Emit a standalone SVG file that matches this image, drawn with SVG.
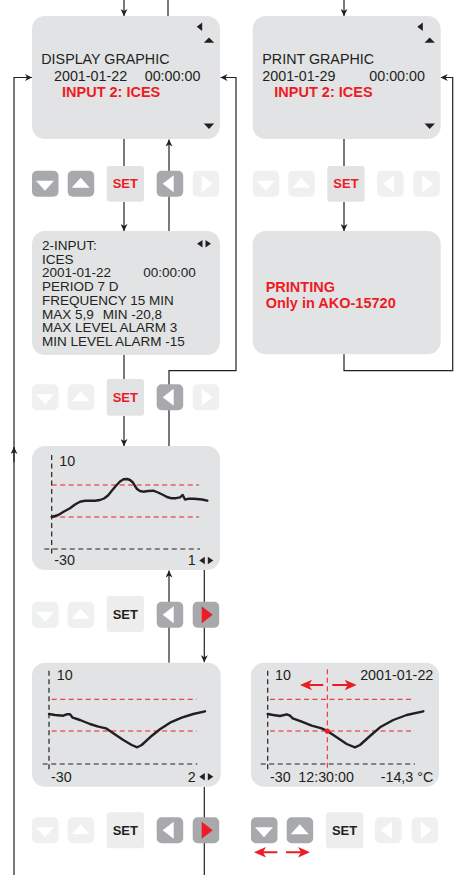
<svg xmlns="http://www.w3.org/2000/svg" xmlns:xlink="http://www.w3.org/1999/xlink" width="461" height="875" viewBox="0 0 461 875">
<defs>
<style>
.box{fill:#e2e3e4}
.t{font-family:"Liberation Sans",Arial,Helvetica,sans-serif;font-size:14.3px;fill:#231f20}
.s{font-size:13.5px}
.r{fill:#ed1c24;font-weight:bold;font-size:14.5px}
.ln{stroke:#231f20;stroke-width:1.2;fill:none}
.ax{stroke:#231f20;stroke-width:1.2;stroke-dasharray:5 3.5;fill:none}
.rd{stroke:#ed1c24;stroke-width:1;stroke-dasharray:5 3.5;fill:none}
.cv{stroke:#231f20;stroke-width:2.4;fill:none;stroke-linejoin:round;stroke-linecap:round}
.bd{fill:#a7a9ac}
.bl{fill:#eff0f0}
.bs{fill:#e2e3e4}
.bs2{fill:#ededee}
.w{fill:#ffffff}
.k{fill:#231f20}
.red{fill:#ed1c24}
.set{font-family:"Liberation Sans",Arial,Helvetica,sans-serif;font-size:13px;font-weight:bold;text-anchor:middle}
</style>
<marker id="ah" viewBox="0 0 10 10" refX="10" refY="5" markerWidth="7" markerHeight="7" markerUnits="userSpaceOnUse" orient="auto">
<path d="M0,0 L10,5 L0,10 L3,5 z" fill="#231f20"/>
</marker>
<g id="tD"><polygon points="4,10 22,10 13,20"/></g>
<g id="tU"><polygon points="4,17 22,17 13,7"/></g>
<g id="tL"><polygon points="17,4.5 6,13 17,21.5"/></g>
<g id="tR"><polygon points="9,4.5 20,13 9,21.5"/></g>
<g id="lr"><polygon points="5.5,0 0,3.7 5.5,7.4"/><polygon points="8.5,0 14,3.7 8.5,7.4"/></g>
</defs>

<!-- connectors -->
<g id="connectors">
<path class="ln" d="M124,0 V16" marker-end="url(#ah)"/>
<path class="ln" d="M168,16 V0"/>
<path class="ln" d="M344,0 V16" marker-end="url(#ah)"/>
<path class="ln" d="M124,139 V166"/>
<path class="ln" d="M124,202 V231" marker-end="url(#ah)"/>
<path class="ln" d="M169,231 V139.5" marker-end="url(#ah)"/>
<path class="ln" d="M344,139 V166"/>
<path class="ln" d="M344,202 V231" marker-end="url(#ah)"/>
<path class="ln" d="M14,875 V77.5 H32" marker-end="url(#ah)"/>
<path class="ln" d="M14,462 V447" marker-end="url(#ah)"/>
<path class="ln" d="M169,446 V370.7 H236 V77.5 H220.5" marker-end="url(#ah)"/>
<path class="ln" d="M344,354 V370.7 H452.7 V77.5 H440.7" marker-end="url(#ah)"/>
<path class="ln" d="M124,355 V379"/>
<path class="ln" d="M124,416 V446" marker-end="url(#ah)"/>
<path class="ln" d="M169,662.7 V570.5" marker-end="url(#ah)"/>
<path class="ln" d="M204.3,570 V662.2" marker-end="url(#ah)"/>
<path class="ln" d="M204.3,787 V875"/>
</g>

<!-- top left: display graphic -->
<g id="display-graphic">
<rect class="box" x="32" y="16" width="188" height="123" rx="13"/>
<polygon class="k" points="196.7,26.7 202.2,22.5 202.2,30.9"/>
<polygon class="k" points="203.8,42.8 214.2,42.8 209,37.5"/>
<polygon class="k" points="203.8,123.6 214.2,123.6 209,128.9"/>
<text class="t" x="41.3" y="64.3">DISPLAY GRAPHIC</text>
<text class="t" x="54" y="81">2001-01-22</text>
<text class="t" x="144.7" y="81">00:00:00</text>
<text class="t r" x="62" y="96.7">INPUT 2: ICES</text>
</g>

<!-- top right: print graphic -->
<g id="print-graphic">
<rect class="box" x="252.7" y="16" width="188" height="123" rx="13"/>
<polygon class="k" points="417.3,26.7 422.8,22.5 422.8,30.9"/>
<polygon class="k" points="424.5,42.8 434.9,42.8 429.7,37.5"/>
<polygon class="k" points="424.5,123.6 434.9,123.6 429.7,128.9"/>
<text class="t" x="262.3" y="64.3">PRINT GRAPHIC</text>
<text class="t" x="262.3" y="81">2001-01-29</text>
<text class="t" x="369.3" y="81">00:00:00</text>
<text class="t r" x="274.3" y="96.7">INPUT 2: ICES</text>
</g>

<!-- buttons row 1 -->
<g id="buttons-1-left">
<rect class="bd" x="32" y="170.7" width="26.5" height="26" rx="5"/><use href="#tD" x="32" y="170.7" class="w"/>
<rect class="bd" x="67.7" y="170.7" width="26.5" height="26" rx="5"/><use href="#tU" x="67.7" y="170.7" class="w"/>
<rect class="bs" x="106.7" y="166" width="37.3" height="35.7" rx="3"/><text class="set red" x="125.3" y="188.3">SET</text>
<rect class="bd" x="156.7" y="170.7" width="26.5" height="26" rx="5"/><use href="#tL" x="156.7" y="170.7" class="w"/>
<rect class="bl" x="192.7" y="170.7" width="26.5" height="26" rx="5"/><use href="#tR" x="192.7" y="170.7" class="w"/>
</g>
<g id="buttons-1-right">
<rect class="bl" x="252.7" y="170.7" width="26.5" height="26" rx="5"/><use href="#tD" x="252.7" y="170.7" class="w"/>
<rect class="bl" x="288.3" y="170.7" width="26.5" height="26" rx="5"/><use href="#tU" x="288.3" y="170.7" class="w"/>
<rect class="bs" x="327.3" y="166" width="37.3" height="35.7" rx="3"/><text class="set red" x="346" y="188.3">SET</text>
<rect class="bl" x="377" y="170.7" width="26.5" height="26" rx="5"/><use href="#tL" x="377" y="170.7" class="w"/>
<rect class="bl" x="413.3" y="170.7" width="26.5" height="26" rx="5"/><use href="#tR" x="413.3" y="170.7" class="w"/>
</g>

<!-- info box -->
<g id="input-info">
<rect class="box" x="32" y="231" width="188" height="124" rx="13"/>
<use href="#lr" x="197" y="240" class="k"/>
<text class="t s" x="42" y="250">2-INPUT:</text>
<text class="t s" x="42" y="263.7">ICES</text>
<text class="t s" x="42" y="277.4">2001-01-22</text>
<text class="t s" x="143.3" y="277.4">00:00:00</text>
<text class="t s" x="42" y="291.1">PERIOD 7 D</text>
<text class="t s" x="42" y="304.8">FREQUENCY 15 MIN</text>
<text class="t s" x="42" y="318.5">MAX 5,9</text>
<text class="t s" x="102.7" y="318.5">MIN -20,8</text>
<text class="t s" x="42" y="332.2">MAX LEVEL ALARM 3</text>
<text class="t s" x="42" y="345.9">MIN LEVEL ALARM -15</text>
</g>

<!-- printing box -->
<g id="printing">
<rect class="box" x="252.7" y="231" width="188" height="123.3" rx="13"/>
<text class="t r" x="265.7" y="291.7">PRINTING</text>
<text class="t r" x="265.7" y="307.7">Only in AKO-15720</text>
</g>

<!-- buttons row 2 -->
<g id="buttons-2">
<rect class="bl" x="32" y="384.3" width="26.5" height="26" rx="5"/><use href="#tD" x="32" y="384.3" class="w"/>
<rect class="bl" x="67.7" y="384.3" width="26.5" height="26" rx="5"/><use href="#tU" x="67.7" y="384.3" class="w"/>
<rect class="bs" x="106.7" y="379" width="37.3" height="36.7" rx="3"/><text class="set red" x="125.3" y="402">SET</text>
<rect class="bd" x="156.7" y="384.3" width="26.5" height="26" rx="5"/><use href="#tL" x="156.7" y="384.3" class="w"/>
<rect class="bl" x="192.7" y="384.3" width="26.5" height="26" rx="5"/><use href="#tR" x="192.7" y="384.3" class="w"/>
</g>

<!-- graph 1 -->
<g id="graph-1">
<rect class="box" x="32" y="446" width="188" height="124" rx="13"/>
<line class="rd" x1="51.7" y1="485" x2="199" y2="485"/>
<line class="rd" x1="51.7" y1="517" x2="199" y2="517"/>
<line class="ax" x1="51.7" y1="455" x2="51.7" y2="557"/>
<line class="ax" x1="44.3" y1="549" x2="200" y2="549"/>
<polyline class="cv" points="51.7,517 58.3,515 64,511.5 70,508.3 75,504.5 80,501.7 85,500.8 90,500.7 95,500.8 100,500 104,498.5 108,495.5 112,490.5 116,485.8 120,481.5 123.5,479.3 127,479 130,480 133,482.5 135,486 137,489 140,491 143.3,491.7 148,491 153.3,490.7 158,492.5 163.3,495 167,497 171.7,498.3 176,498.2 180,497.3 182.7,495 185,499.5 188,498.8 190,498.7 194,498.8 196.7,499 202,499.5 207.3,500.7"/>
<text class="t" x="59.3" y="465.7">10</text>
<text class="t" x="54.3" y="565">-30</text>
<text class="t" x="187.7" y="565">1</text>
<use href="#lr" x="199.3" y="556.8" class="k"/>
</g>

<!-- buttons row 3 -->
<g id="buttons-3">
<rect class="bl" x="32" y="601.7" width="26.5" height="26" rx="5"/><use href="#tD" x="32" y="601.7" class="w"/>
<rect class="bl" x="67.7" y="601.7" width="26.5" height="26" rx="5"/><use href="#tU" x="67.7" y="601.7" class="w"/>
<rect class="bs2" x="106.7" y="596" width="37.3" height="36" rx="3"/><text class="set k" x="125.3" y="619">SET</text>
<rect class="bd" x="156.7" y="601.7" width="26.5" height="26" rx="5"/><use href="#tL" x="156.7" y="601.7" class="w"/>
<rect class="bd" x="192.7" y="601.7" width="26.5" height="26" rx="5"/><use href="#tR" x="192.7" y="601.7" class="red"/>
</g>

<!-- graph 2 -->
<g id="graph-2">
<rect class="box" x="32" y="662.7" width="188.7" height="124" rx="13"/>
<line class="rd" x1="51.7" y1="699.3" x2="196.7" y2="699.3"/>
<line class="rd" x1="51.7" y1="731" x2="196.7" y2="731"/>
<line class="ax" x1="49" y1="670.7" x2="49" y2="771.7"/>
<line class="ax" x1="42.7" y1="764" x2="197.3" y2="764"/>
<polyline class="cv" points="49,714 55,715 63.3,715.7 66.7,714.3 70,714.3 72.7,717.7 80,720 90,724 98.3,726.7 106,728.3 113.3,733.3 123.3,740 131.7,745 137.3,747.3 141.7,745 150,737.3 160,729.3 170,722.7 181.7,717.7 193.3,714 205,711.3"/>
<text class="t" x="56.7" y="680">10</text>
<text class="t" x="51" y="781.7">-30</text>
<text class="t" x="187.7" y="781.7">2</text>
<use href="#lr" x="199.3" y="773" class="k"/>
</g>

<!-- graph 3 (cursor) -->
<g id="graph-3">
<rect class="box" x="251" y="662.7" width="188" height="124" rx="13"/>
<line class="rd" x1="270" y1="699.3" x2="414.3" y2="699.3"/>
<line class="rd" x1="270" y1="731" x2="414.3" y2="731"/>
<line class="rd" x1="327.3" y1="669.3" x2="327.3" y2="771.7"/>
<line class="ax" x1="267.7" y1="670.7" x2="267.7" y2="771.7"/>
<line class="ax" x1="260.7" y1="764" x2="415" y2="764"/>
<polyline class="cv" points="267.7,714 273.3,715 280,716 286.7,714.3 290,715.7 292.7,718.3 301.7,721.7 311.7,725.7 321.7,728.3 327.3,731 336.7,737.3 346.7,744 355,747.3 360,745 370,736 380,727.3 393.3,720 406.7,715 423.3,711.3"/>
<circle cx="327.3" cy="731" r="2.6" fill="#ed1c24"/>
<path d="M300,685 L312,679.8 L309.5,684 L323.3,684 L323.3,686 L309.5,686 L312,690.2 z" fill="#ed1c24"/>
<path d="M356.7,685 L344.7,679.8 L347.2,684 L332.3,684 L332.3,686 L347.2,686 L344.7,690.2 z" fill="#ed1c24"/>
<text class="t" x="275" y="680">10</text>
<text class="t" x="433.3" y="680" text-anchor="end">2001-01-22</text>
<text class="t" x="270" y="781.7">-30</text>
<text class="t" x="298.3" y="781.7">12:30:00</text>
<text class="t" x="433.3" y="781.7" text-anchor="end">-14,3 °C</text>
</g>

<!-- buttons row 4 -->
<g id="buttons-4-left">
<rect class="bl" x="32" y="817.3" width="26.5" height="26" rx="5"/><use href="#tD" x="32" y="817.3" class="w"/>
<rect class="bl" x="67.7" y="817.3" width="26.5" height="26" rx="5"/><use href="#tU" x="67.7" y="817.3" class="w"/>
<rect class="bs2" x="106.7" y="812.3" width="37.3" height="36" rx="3"/><text class="set k" x="125.3" y="835.3">SET</text>
<rect class="bd" x="156.7" y="817.3" width="26.5" height="26" rx="5"/><use href="#tL" x="156.7" y="817.3" class="w"/>
<rect class="bd" x="192.7" y="817.3" width="26.5" height="26" rx="5"/><use href="#tR" x="192.7" y="817.3" class="red"/>
</g>
<g id="buttons-4-right">
<rect class="bd" x="251" y="817.3" width="26.5" height="26" rx="5"/><use href="#tD" x="251" y="817.3" class="w"/>
<rect class="bd" x="286.7" y="817.3" width="26.5" height="26" rx="5"/><use href="#tU" x="286.7" y="817.3" class="w"/>
<rect class="bs2" x="326" y="812.3" width="37.3" height="36" rx="3"/><text class="set k" x="344.6" y="835.3">SET</text>
<rect class="bl" x="375" y="817.3" width="26.5" height="26" rx="5"/><use href="#tL" x="375" y="817.3" class="w"/>
<rect class="bl" x="411.7" y="817.3" width="26.5" height="26" rx="5"/><use href="#tR" x="411.7" y="817.3" class="w"/>
<path d="M254,852.3 L266,847.1 L263.5,851.3 L277.3,851.3 L277.3,853.3 L263.5,853.3 L266,857.5 z" fill="#ed1c24"/>
<path d="M310,852.3 L298,847.1 L300.5,851.3 L286,851.3 L286,853.3 L300.5,853.3 L298,857.5 z" fill="#ed1c24"/>
</g>
</svg>
